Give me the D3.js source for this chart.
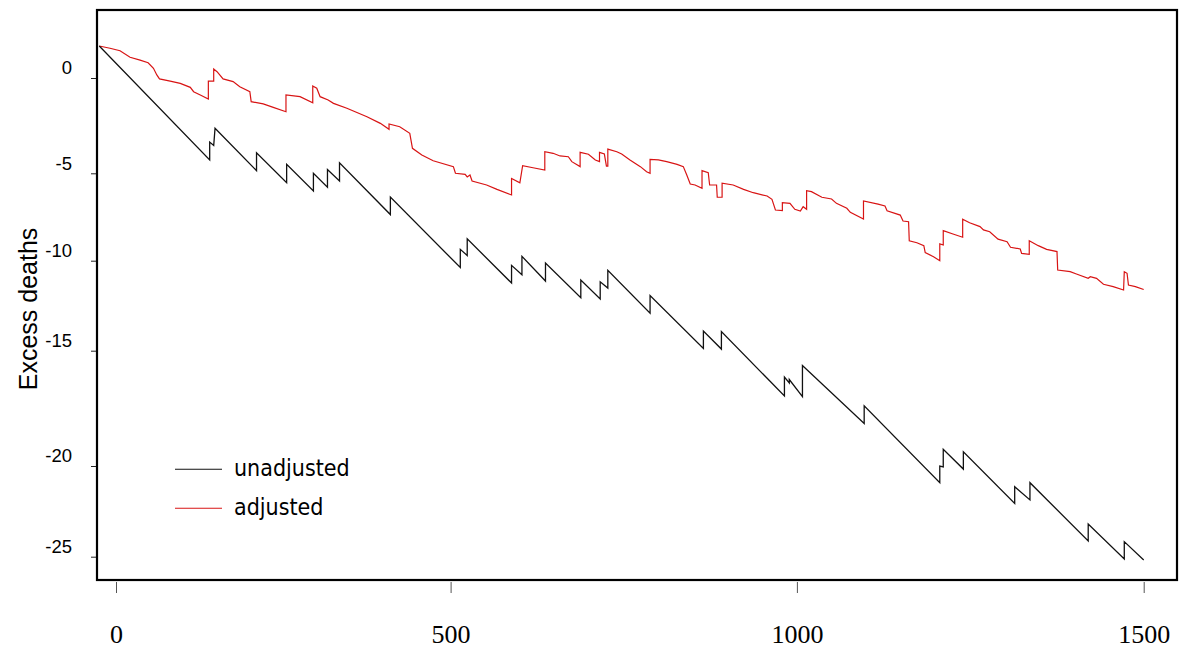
<!DOCTYPE html>
<html>
<head>
<meta charset="utf-8">
<script src="https://cdn.jsdelivr.net/npm/d3@7"></script>
<style>
  html, body { margin: 0; padding: 0; background: #fff; }
  svg { display: block; }
</style>
</head>
<body>
<svg id="chart" width="1182" height="655"></svg>
<script>
// Cumulative excess deaths by case number, with and without risk adjustment.
const xTicks = [0, 500, 1000, 1500];
const yTicks = [0, -5, -10, -15, -20, -25];

const unadjustedX = [-25, 140, 140, 146, 148, 210, 210, 255, 255, 295, 295, 316, 316, 334, 334, 410, 410,
  514, 514, 524, 524, 588, 588, 603, 603, 637, 637, 688, 688, 716, 716, 727, 727, 788, 788, 865, 865,
  891, 891, 982, 982, 989, 989, 1008, 1008, 1097, 1097, 1206, 1206, 1211, 1211, 1240, 1240, 1314, 1314,
  1336, 1336, 1420, 1420, 1472, 1472, 1500];
const unadjustedY = [1.68, -4.30, -3.36, -3.54, -2.64, -4.86, -3.93, -5.54, -4.53, -6.01, -5.00, -5.80, -4.80,
  -5.44, -4.45, -7.36, -6.36, -10.38, -9.35, -9.70, -8.75, -11.24, -10.26, -10.78, -9.75, -11.13, -10.13,
  -12.06, -11.07, -12.13, -11.17, -11.52, -10.53, -12.92, -11.93, -14.87, -13.91, -14.91, -13.94, -16.96,
  -16.14, -16.40, -16.25, -16.99, -15.64, -18.16, -17.39, -20.92, -20.00, -20.05, -19.28, -20.17, -19.38,
  -22.06, -21.14, -21.87, -20.92, -24.13, -23.20, -25.13, -24.17, -25.18];

const adjustedX = [-25, -9, 6, 21, 36, 48, 56, 61, 65, 81, 96, 111, 116, 126, 138, 138, 146, 146, 151, 160,
  175, 185, 200, 202, 220, 235, 254, 254, 275, 294, 294, 300, 305, 317, 325, 345, 375, 395, 408, 408, 424,
  439, 443, 457, 474, 504, 507, 521, 524, 528, 531, 552, 567, 588, 588, 600, 604, 619, 636, 636, 648, 658,
  670, 675, 687, 687, 699, 709, 715, 715, 722, 725, 727, 727, 740, 747, 759, 774, 783, 788, 788, 800, 812,
  827, 836, 841, 846, 853, 863, 863, 872, 874, 884, 885, 892, 892, 908, 923, 937, 957, 964, 969, 979, 979,
  990, 997, 1005, 1009, 1014, 1014, 1021, 1036, 1050, 1057, 1072, 1077, 1096, 1096, 1117, 1127, 1130, 1149,
  1153, 1161, 1162, 1173, 1183, 1185, 1197, 1206, 1206, 1211, 1211, 1225, 1239, 1239, 1249, 1264, 1269,
  1278, 1290, 1303, 1308, 1322, 1324, 1335, 1335, 1348, 1360, 1375, 1376, 1394, 1403, 1420, 1423, 1432,
  1442, 1456, 1471, 1472, 1476, 1478, 1488, 1500];
const adjustedY = [1.68, 1.56, 1.43, 1.09, 0.94, 0.80, 0.51, 0.16, -0.05, -0.16, -0.28, -0.49, -0.72, -0.89,
  -1.10, -0.16, -0.16, 0.47, 0.33, -0.05, -0.19, -0.46, -0.72, -1.24, -1.36, -1.54, -1.77, -0.89, -0.98,
  -1.30, -0.42, -0.54, -0.98, -1.15, -1.33, -1.59, -2.03, -2.38, -2.69, -2.41, -2.56, -2.90, -3.69, -4.04,
  -4.34, -4.65, -5.00, -5.06, -5.21, -5.10, -5.44, -5.67, -5.92, -6.24, -5.29, -5.54, -4.60, -4.71, -4.83,
  -3.87, -3.95, -4.09, -4.13, -4.39, -4.65, -3.90, -4.00, -4.30, -4.39, -3.90, -3.99, -4.62, -4.62, -3.73,
  -3.87, -3.99, -4.30, -4.65, -4.92, -5.00, -4.27, -4.30, -4.39, -4.53, -4.65, -5.10, -5.61, -5.67, -5.86,
  -4.86, -4.97, -5.67, -5.67, -6.37, -6.37, -5.57, -5.67, -5.92, -6.11, -6.30, -6.49, -7.10, -7.14, -6.68,
  -6.72, -7.06, -7.16, -6.91, -7.06, -6.00, -6.05, -6.37, -6.47, -6.72, -7.00, -7.23, -7.61, -6.58, -6.76,
  -6.87, -7.14, -7.39, -7.73, -7.77, -8.86, -8.97, -9.14, -9.54, -9.77, -10.00, -9.04, -9.10, -8.28, -8.47,
  -8.66, -7.63, -7.83, -8.05, -8.24, -8.34, -8.77, -8.91, -9.23, -9.33, -9.58, -9.63, -8.86, -9.14, -9.35,
  -9.48, -10.52, -10.61, -10.74, -10.98, -10.89, -10.98, -11.31, -11.44, -11.63, -10.61, -10.70, -11.35,
  -11.44, -11.60];

const seriesNames = ["unadjusted", "adjusted"];
const seriesColors = ["#111111", "#d81414"];
const yTitle = "Excess deaths";

const svg = d3.select("#chart");

// Plot frame
const frame = { left: 97, top: 10, right: 1177, bottom: 580 };

// Axis scales (stops follow the printed tick positions)
const x = d3.scaleLinear().domain(xTicks).range([116, 450.6, 796.9, 1143.7]);
const y = d3.scaleLinear()
  .domain(yTicks.slice().reverse())
  .range([556.7, 466, 350.7, 260.7, 173.3, 78]);

const series = [
  d3.zip(unadjustedX, unadjustedY),
  d3.zip(adjustedX, adjustedY)
];

const line = d3.line().x(d => x(d[0])).y(d => y(d[1]));

// Series lines (adjusted underneath, unadjusted on top)
svg.append("g")
  .selectAll("path")
  .data([1, 0])
  .join("path")
  .attr("d", i => line(series[i]))
  .attr("fill", "none")
  .attr("stroke", i => seriesColors[i])
  .attr("stroke-width", i => i === 0 ? 1.3 : 1.2)
  .attr("stroke-linejoin", "miter");

// Frame
svg.append("rect")
  .attr("x", frame.left)
  .attr("y", frame.top)
  .attr("width", frame.right - frame.left)
  .attr("height", frame.bottom - frame.top)
  .attr("fill", "none")
  .attr("stroke", "#000")
  .attr("stroke-width", 2.2);

// Y axis
const yAxis = svg.append("g")
  .attr("transform", `translate(${frame.left - 1},0)`)
  .call(d3.axisLeft(y).tickValues(yTicks).tickSize(5).tickPadding(19)
    .tickFormat(d => String(d)));
yAxis.select(".domain").remove();
yAxis.selectAll(".tick line").attr("stroke", "#222");
yAxis.selectAll(".tick text")
  .attr("y", -10)
  .attr("fill", "#000")
  .style("font-family", "'Liberation Sans', Arial, sans-serif")
  .style("font-size", "18.5px");

// X axis
const xAxis = svg.append("g")
  .attr("transform", `translate(0,${frame.bottom + 2})`)
  .call(d3.axisBottom(x).tickValues(xTicks).tickSize(11).tickFormat(d => String(d)));
xAxis.select(".domain").remove();
xAxis.selectAll(".tick line").attr("stroke", "#555");
xAxis.selectAll(".tick text")
  .attr("y", 61)
  .attr("dy", 0)
  .attr("fill", "#000")
  .style("font-family", "'Liberation Serif', 'Times New Roman', serif")
  .style("font-size", "26px");

// Y title
svg.append("text")
  .attr("transform", "translate(37,309) rotate(-90)")
  .attr("text-anchor", "middle")
  .style("font-family", "'Liberation Sans', Arial, sans-serif")
  .style("font-size", "25px")
  .attr("fill", "#000")
  .text(yTitle);

// Legend
const legend = svg.append("g");
const legendRows = legend.selectAll("g")
  .data(seriesNames)
  .join("g")
  .attr("transform", (d, i) => `translate(175,${469.3 + i * 39})`);
legendRows.append("line")
  .attr("x1", 0).attr("x2", 47)
  .attr("stroke", (d, i) => seriesColors[i])
  .attr("stroke-width", 1.1);
legendRows.append("text")
  .attr("x", 59)
  .attr("y", 7)
  .attr("fill", "#000")
  .style("font-family", "'DejaVu Sans Condensed', 'DejaVu Sans', sans-serif")
  .style("font-stretch", "condensed")
  .style("font-size", "23px")
  .text(d => d);
</script>
</body>
</html>
